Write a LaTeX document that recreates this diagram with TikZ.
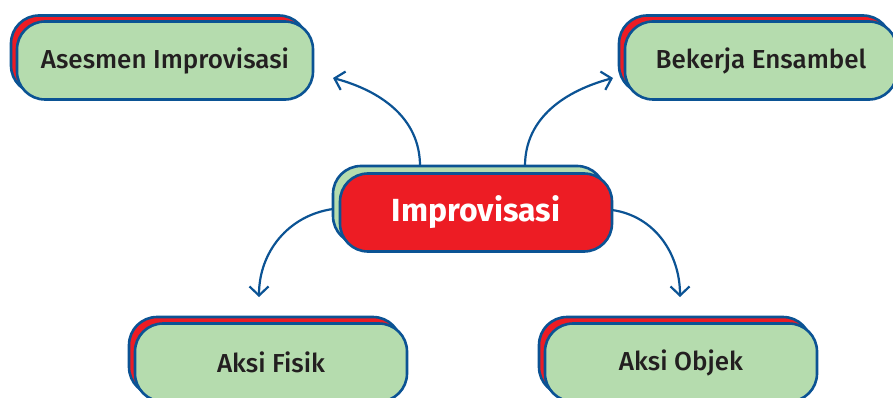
\documentclass[tikz,border=0pt]{standalone}
\usepackage{fontspec}
\setmainfont{Fira Sans}
\newfontfamily\labelfont{Fira Sans Medium}
\newfontfamily\titlefont{Fira Sans Bold}
\usetikzlibrary{arrows.meta}
\definecolor{edgeblue}{HTML}{0B5394}
\definecolor{boxred}{HTML}{ED1C24}
\definecolor{boxgreen}{HTML}{B5DCAE}
\definecolor{inkdark}{HTML}{231F20}
\tikzset{
  pill/.style={rectangle, rounded corners=28pt, draw=edgeblue, line width=2.6pt,
    minimum width=#1, minimum height=78pt, inner sep=0pt},
  pill/.default=272pt,
  backred/.style={pill=#1, fill=boxred},
  backred/.default=272pt,
  frontgreen/.style={pill=#1, fill=boxgreen, text=inkdark, font=\labelfont\fontsize{26}{30}\selectfont},
  frontgreen/.default=272pt,
  conn/.style={draw=edgeblue, line width=2.2pt, -{Straight Barb[length=9pt,width=19pt]}},
}
\begin{document}
\begin{tikzpicture}[x=1pt,y=1pt]
\useasboundingbox (0,0) rectangle (893,-398);

% top left
\node[backred=296pt] (asesB) at (159,-54.5) {};
\node[frontgreen=296pt] (asesF) at (165,-60.5) {Asesmen Improvisasi};

% top right
\node[backred] (bekB) at (755,-54.5) {};
\node[frontgreen] (bekF) at (761,-60.5) {Bekerja Ensambel};

% bottom left
\node[backred] (fisB) at (265,-356) {};
\node[frontgreen] (fisF) at (271,-362.5) {Aksi Fisik};

% bottom right
\node[backred] (objB) at (675,-356) {};
\node[frontgreen] (objF) at (681,-362.5) {Aksi Objek};

% centre
\node[pill, fill=boxgreen] (cenB) at (469,-205) {};
\node[pill, fill=boxred, text=white, font=\titlefont\fontsize{32}{37}\selectfont] (cenF) at (476,-212.5) {Improvisasi};

% connector ends
\coordinate (s1) at (420,-166);
\coordinate (t1) at (333,-78);
\coordinate (s2) at (525,-166);
\coordinate (t2) at (613,-78);
\coordinate (s3) at (333,-209);
\coordinate (t3) at (259,-297);
\coordinate (s4) at (612,-210);
\coordinate (t4) at (680,-297);

\draw[conn] (s1) to[out=90, in=-15] (t1);
\draw[conn] (s2) to[out=90, in=195] (t2);
\draw[conn] (s3) to[out=188, in=90] (t3);
\draw[conn] (s4) to[out=-8, in=90] (t4);
\end{tikzpicture}
\end{document}
